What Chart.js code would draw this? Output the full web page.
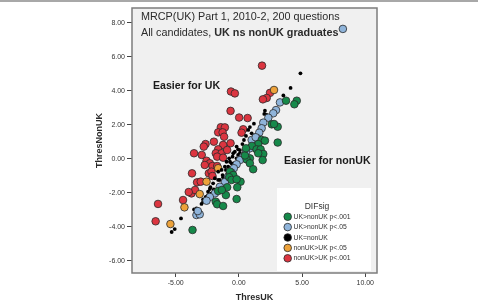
<!DOCTYPE html>
<html>
<head>
<meta charset="utf-8">
<script src="https://cdn.jsdelivr.net/npm/chart.js@4.4.1/dist/chart.umd.min.js"></script>
<style>
  html, body { margin: 0; padding: 0; background: #fff; }
  #wrap { width: 478px; height: 303px; position: relative; }
</style>
</head>
<body>
<div id="wrap"><canvas id="c" width="478" height="303"></canvas></div>
<script>
// Axis ticks
const xTicks = [-5, 0, 5, 10];
const yTicks = [-6, -4, -2, 0, 2, 4, 6, 8];

// Points: [ThresUK, ThresNonUK]
const ukGt001 = [
  [3.73, 3.41], [4.58, 3.41], [4.39, 3.20], [2.60, 2.02], [3.07, 1.88], [2.78, 2.04],
  [3.07, 0.95], [1.80, 1.10], [2.06, 1.06], [1.53, 0.86], [1.03, 0.75], [1.40, 0.55],
  [1.72, 0.55], [1.93, 0.28], [1.53, 0.32], [1.88, -0.08], [0.87, 0.02], [0.61, -0.04],
  [0.48, 0.19], [0.87, -0.27], [1.13, -0.62], [0.56, 0.61], [-0.71, -0.76], [-0.45, -0.96],
  [-0.77, -1.09], [-0.58, -1.25], [-0.93, -1.68], [0.13, -1.35], [-0.18, -1.21], [-0.13, -1.68],
  [-0.18, -2.37], [-1.64, -1.90], [-1.83, -2.53], [-1.72, -2.68], [-1.25, -2.78], [-3.67, -4.19],
  [-1.03, -2.14], [-1.35, -1.84]
];
const ukGt05 = [
  [8.23, 7.63], [3.25, 3.31], [2.94, 2.86], [2.72, 2.67], [2.33, 2.41], [1.93, 2.12],
  [1.80, 1.79], [1.61, 1.53], [1.45, 1.20], [1.19, 0.91], [0.87, 0.61], [0.34, 0.12],
  [0.08, -0.08], [-0.18, -0.33], [-0.40, -0.56], [-0.58, -0.82], [-0.87, -1.08], [-1.11, -1.37],
  [-1.51, -1.65], [-1.90, -2.04], [-2.30, -2.25], [-2.56, -2.47], [-3.36, -3.31], [-3.10, -3.27],
  [-3.25, -3.08], [0.56, 0.39], [1.01, 1.10], [1.33, 1.26]
];
const ukEq = [
  [4.87, 5.02], [4.09, 4.16], [3.52, 3.72], [2.06, 2.82], [2.01, 2.63], [2.20, 2.57],
  [1.83, 2.18], [1.19, 2.06], [0.74, 1.69], [1.01, 1.49], [1.29, 1.39], [0.56, 1.34],
  [-0.18, 0.71], [0.08, 0.51], [-0.06, 0.55], [-0.45, 0.32], [-0.06, 0.22], [-0.32, 0.41],
  [0.08, 0.32], [-0.50, 0.12], [-0.77, 0.02], [-0.18, 0.02], [-0.98, -0.18], [-0.71, -0.18],
  [-0.58, -0.27], [-0.40, -0.27], [-1.11, -0.47], [-0.85, -0.47], [-1.37, -0.66], [-1.03, -0.66],
  [-0.58, -0.66], [-1.64, -0.76], [-1.29, -0.96], [-0.93, -0.90], [-1.90, -1.15], [-1.25, -1.09],
  [-1.64, -1.25], [-1.51, -1.25], [-1.11, -1.35], [-2.04, -1.45], [-2.25, -1.68], [-1.98, -1.80],
  [-2.30, -1.78], [-2.44, -1.94], [-2.17, -2.04], [-2.44, -2.14], [-2.62, -2.24], [-2.83, -2.39],
  [-2.83, -2.53], [-2.96, -2.66], [-3.36, -2.92], [-3.55, -2.98], [-3.23, -2.98], [-4.58, -3.51],
  [-5.08, -4.14], [-5.32, -4.31], [0.40, 1.10], [0.28, 0.86], [0.87, 1.86]
];
const nonUkGt05 = [
  [2.78, 4.04], [-2.56, -1.35], [-1.64, -0.56], [-3.10, -2.08], [-4.31, -2.86], [-5.42, -3.84]
];
const nonUkGt001 = [
  [1.83, 5.47], [-0.63, 3.95], [-0.32, 3.84], [2.46, 3.87], [2.20, 3.57], [1.90, 3.49],
  [-0.66, 2.81], [0.02, 2.42], [0.69, 2.39], [0.34, 1.73], [0.21, 1.53], [-1.43, 1.85],
  [-1.11, 1.84], [-1.64, 1.55], [-1.29, 1.55], [-1.17, 1.29], [-2.64, 0.86], [-2.78, 0.71],
  [-1.98, 1.00], [-1.25, 0.81], [-0.66, 0.91], [-3.55, 0.32], [-2.94, 0.22], [-1.64, 0.55],
  [-1.83, 0.32], [-1.37, 0.32], [-0.93, 0.51], [-1.72, 0.12], [-1.25, 0.06], [-2.56, -0.12],
  [-2.30, -0.27], [-2.09, -0.43], [-2.70, -0.37], [-1.72, -0.43], [-3.71, -0.86], [-2.38, -0.86],
  [-2.17, -0.76], [-2.09, -1.02], [-3.31, -1.39], [-3.02, -1.35], [-3.75, -2.04], [-3.47, -1.84],
  [-3.97, -1.96], [-4.42, -2.43], [-6.40, -2.66], [-6.59, -3.68]
];

const seriesNames = ['UK>nonUK p<.001', 'UK>nonUK p<.05', 'UK=nonUK', 'nonUK>UK p<.05', 'nonUK>UK p<.001'];
const seriesData = [ukGt001, ukGt05, ukEq, nonUkGt05, nonUkGt001];
const seriesColors = ['#16894a', '#8fb4da', '#000000', '#eda23a', '#dc3540'];

const FONT = '"Liberation Sans", Arial, sans-serif';

const datasets = seriesData.map((pts, i) => ({
  label: seriesNames[i],
  data: pts.map(p => ({ x: p[0], y: p[1] })),
  backgroundColor: seriesColors[i],
  borderColor: i === 2 ? '#000' : '#2a2a2a',
  borderWidth: i === 2 ? 0 : 0.8,
  pointRadius: i === 2 ? 1.9 : 3.8,
  pointHoverRadius: i === 2 ? 1.9 : 3.8
}));

// Backdrop, frame, annotations and legend drawn by hand
const decor = {
  id: 'decor',
  beforeDraw(chart) {
    const { ctx, chartArea: a } = chart;
    ctx.save();
    ctx.fillStyle = '#f0f0f0';
    ctx.fillRect(a.left, a.top, a.right - a.left, a.bottom - a.top);
    ctx.fillStyle = '#a8a8a8';
    ctx.fillRect(0, 0, chart.width, 2);
    ctx.restore();
  },
  afterDraw(chart) {
    const { ctx, chartArea: a } = chart;
    ctx.save();
    // frame
    ctx.strokeStyle = '#7c7c7c';
    ctx.lineWidth = 1.5;
    ctx.strokeRect(a.left, a.top, a.right - a.left, a.bottom - a.top);

    // headline
    ctx.fillStyle = '#2b2b2b';
    ctx.textBaseline = 'middle';
    ctx.textAlign = 'left';
    ctx.font = '10.8px ' + FONT;
    ctx.fillText('MRCP(UK) Part 1, 2010-2, 200 questions', 141, 17);
    const lead = 'All candidates, ';
    ctx.fillText(lead, 141, 33);
    const w = ctx.measureText(lead).width;
    ctx.font = 'bold 10.8px ' + FONT;
    ctx.fillText('UK ns nonUK graduates', 141 + w, 33);

    ctx.fillStyle = '#1a1a1a';
    ctx.font = 'bold 10.6px ' + FONT;
    ctx.fillText('Easier for UK', 153, 86);
    ctx.fillText('Easier for nonUK', 284, 161);

    // legend
    ctx.fillStyle = '#ffffff';
    ctx.fillRect(277, 188, 94, 83);
    ctx.fillStyle = '#333';
    ctx.textAlign = 'center';
    ctx.font = '8.5px ' + FONT;
    ctx.fillText('DIFsig', 317, 207);
    ctx.textAlign = 'left';
    ctx.font = '6.8px ' + FONT;
    seriesNames.forEach((name, i) => {
      const y = 216.7 + i * 10.4;
      ctx.beginPath();
      ctx.arc(287.7, y, 3.8, 0, Math.PI * 2);
      ctx.fillStyle = seriesColors[i];
      ctx.fill();
      ctx.lineWidth = 0.8;
      ctx.strokeStyle = '#2a2a2a';
      ctx.stroke();
      ctx.fillStyle = '#333';
      ctx.fillText(name, 293.5, y + 0.3);
    });

    // axis titles
    ctx.fillStyle = '#2b2b2b';
    ctx.font = 'bold 9px ' + FONT;
    ctx.textAlign = 'center';
    ctx.fillText('ThresUK', (a.left + a.right) / 2, 297.5);
    ctx.translate(100, (a.top + a.bottom) / 2);
    ctx.rotate(-Math.PI / 2);
    ctx.fillText('ThresNonUK', 0, 0);
    ctx.restore();
  }
};

new Chart(document.getElementById('c'), {
  type: 'scatter',
  data: { datasets },
  options: {
    responsive: false,
    animation: false,
    layout: { padding: { top: 8, right: 101, left: 0, bottom: 0 } },
    plugins: { legend: { display: false }, tooltip: { enabled: false } },
    scales: {
      x: {
        type: 'linear',
        min: -8.46,
        max: 10.93,
        afterBuildTicks: s => { s.ticks = xTicks.map(v => ({ value: v })); },
        afterFit: s => { s.height = 30; },
        grid: { drawOnChartArea: false, drawTicks: true, tickLength: 4, color: '#444' },
        border: { display: false },
        ticks: {
          padding: 2,
          color: '#333',
          font: { size: 7, family: FONT },
          callback: v => v.toFixed(2)
        }
      },
      y: {
        type: 'linear',
        min: -6.72,
        max: 8.86,
        afterBuildTicks: s => { s.ticks = yTicks.map(v => ({ value: v })); },
        afterFit: s => { s.width = 132; },
        grid: { drawOnChartArea: false, drawTicks: true, tickLength: 5, color: '#444' },
        border: { display: false },
        ticks: {
          padding: 2,
          color: '#333',
          font: { size: 7, family: FONT },
          callback: v => v.toFixed(2)
        }
      }
    }
  },
  plugins: [decor]
});
</script>
</body>
</html>
